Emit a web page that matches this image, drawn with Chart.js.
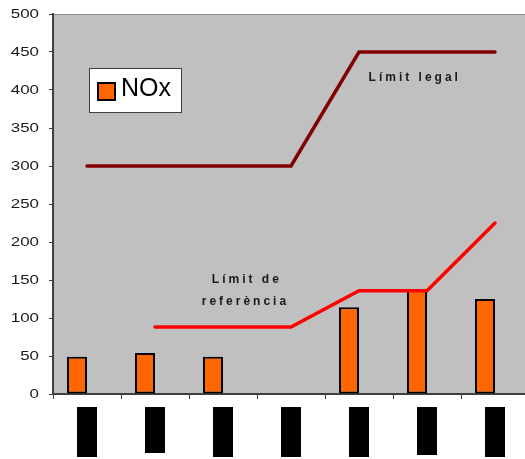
<!DOCTYPE html>
<html>
<head>
<meta charset="utf-8">
<title>NOx</title>
<script src="https://cdn.jsdelivr.net/npm/chart.js"></script>
<style>
    body {
        margin: 0;
        overflow: hidden;
        background: #fff;
    }
</style>
</head>
<body>
<canvas id="noxChart" width="529" height="459"></canvas>
<script>
    // data
    const categories = ['1', '2', '3', '4', '5', '6', '7'];
    const noxValues = [49, 54, 49, null, 114, 138, 125];
    const emptySeries = [null, null, null, null, null, null, null];
    const legalLimit = [300, 300, 300, 300, 450, 450, 450];
    const referenceLimit = [null, 88, 88, 88, 136, 136, 225];
    const yMin = 0, yMax = 500, yStep = 50;

    // category labels are blacked out in the reference
    const labelBoxLength = [50, 46, 50, 50, 50, 48, 50];

    // text notes, placed in data coordinates (category index, value)
    const notes = [
        { text: 'Límit legal', x: 4.82, y: 416 },
        { text: 'Límit de', x: 2.35, y: 150 },
        { text: 'referència', x: 2.33, y: 122 }
    ];

    const deco = {
        id: 'deco',
        beforeDraw(chart) {
            const ctx = chart.ctx, a = chart.chartArea;
            ctx.save();
            ctx.fillStyle = '#c0c0c0';
            ctx.fillRect(a.left, a.top, a.right - a.left, a.bottom - a.top);
            ctx.strokeStyle = '#8c8c8c';
            ctx.lineWidth = 1;
            ctx.beginPath();
            ctx.moveTo(a.left, a.top + 0.5);
            ctx.lineTo(a.right, a.top + 0.5);
            ctx.stroke();
            ctx.restore();
        },
        afterDatasetsDraw(chart) {
            const ctx = chart.ctx, a = chart.chartArea;
            const xs = chart.scales.x, ys = chart.scales.y;
            ctx.save();
            ctx.letterSpacing = '3px';
            ctx.font = 'bold 12px "Liberation Sans", Arial, sans-serif';
            ctx.fillStyle = '#1a1a1a';
            ctx.textAlign = 'center';
            ctx.textBaseline = 'middle';
            notes.forEach(n => {
                ctx.fillText(n.text, xs.getPixelForValue(n.x), ys.getPixelForValue(n.y));
            });

            // legend box
            const ds = chart.data.datasets[0];
            const lx = a.left + 36, ly = a.top + 54;
            ctx.fillStyle = '#ffffff';
            ctx.fillRect(lx, ly, 92, 44);
            ctx.strokeStyle = '#404040';
            ctx.lineWidth = 1;
            ctx.strokeRect(lx + 0.5, ly + 0.5, 92, 44);
            ctx.fillStyle = ds.backgroundColor;
            ctx.fillRect(lx + 9, ly + 15, 17, 17);
            ctx.strokeStyle = '#000';
            ctx.lineWidth = 2;
            ctx.strokeRect(lx + 9, ly + 15, 17, 17);
            ctx.letterSpacing = '0px';
            ctx.font = '25px "Liberation Sans", Arial, sans-serif';
            ctx.fillStyle = '#000';
            ctx.textAlign = 'left';
            ctx.fillText(ds.label, lx + 32, ly + 21);
            ctx.restore();
        },
        afterDraw(chart) {
            const ctx = chart.ctx, a = chart.chartArea;
            const xs = chart.scales.x, ys = chart.scales.y;
            ctx.save();
            ctx.fillStyle = '#000';
            categories.forEach((c, i) => {
                const x = xs.getPixelForTick(i);
                ctx.fillRect(Math.round(x) - 10, a.bottom + 13, 20, labelBoxLength[i]);
            });

            // y tick numbers, drawn a little wide like the reference
            ctx.font = '13px "Liberation Sans", Arial, sans-serif';
            ctx.fillStyle = '#1a1a1a';
            ctx.textAlign = 'right';
            ctx.textBaseline = 'middle';
            ys.ticks.forEach(t => {
                ctx.save();
                ctx.translate(a.left - 14, ys.getPixelForValue(t.value) + 0.5);
                ctx.scale(1.3, 1);
                ctx.fillText(String(t.value), 0, 0);
                ctx.restore();
            });
            ctx.restore();
        }
    };

    const ctx = document.getElementById('noxChart').getContext('2d');
    new Chart(ctx, {
        data: {
            labels: categories,
            datasets: [
                {
                    type: 'bar',
                    label: 'NOx',
                    data: noxValues,
                    backgroundColor: '#ff6600',
                    borderColor: '#000000',
                    borderWidth: 2,
                    borderSkipped: false,
                    categoryPercentage: 0.588,
                    barPercentage: 1,
                    order: 2
                },
                {
                    type: 'bar',
                    label: '',
                    data: emptySeries,
                    categoryPercentage: 0.588,
                    barPercentage: 1,
                    order: 3
                },
                {
                    type: 'line',
                    label: 'Límit legal',
                    data: legalLimit,
                    borderColor: '#800000',
                    borderWidth: 3.5,
                    borderCapStyle: 'round',
                    pointRadius: 0,
                    tension: 0,
                    order: 0
                },
                {
                    type: 'line',
                    label: 'Límit de referència',
                    data: referenceLimit,
                    borderColor: '#ff0000',
                    borderWidth: 3.5,
                    borderCapStyle: 'round',
                    pointRadius: 0,
                    tension: 0,
                    spanGaps: false,
                    order: 1
                }
            ]
        },
        options: {
            responsive: false,
            animation: false,
            layout: {
                padding: { top: 14, left: 0, right: 0, bottom: 0 }
            },
            plugins: {
                legend: { display: false },
                tooltip: { enabled: false }
            },
            scales: {
                x: {
                    offset: true,
                    grid: {
                        offset: true,
                        drawOnChartArea: false,
                        tickLength: 5,
                        color: '#404040',
                        lineWidth: 1
                    },
                    border: { color: '#404040', width: 2 },
                    ticks: { display: false },
                    afterFit(s) { s.height = 65; }
                },
                y: {
                    min: yMin,
                    max: yMax,
                    ticks: {
                        stepSize: yStep,
                        display: false
                    },
                    grid: {
                        drawOnChartArea: false,
                        tickLength: 4,
                        color: '#404040',
                        lineWidth: 1
                    },
                    border: { color: '#404040', width: 2 },
                    afterFit(s) { s.width = 53; }
                }
            }
        },
        plugins: [deco]
    });
</script>
</body>
</html>
